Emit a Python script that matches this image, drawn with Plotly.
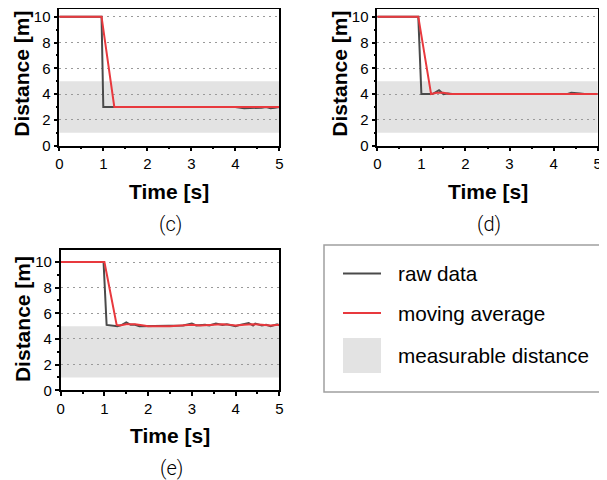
import plotly.graph_objects as go

# page is 607x480; the HTML body has an 8px default margin, so the figure
# is sized/positioned to compensate
OFF = 8
W, H = 607 - OFF, 480 - OFF

# ---------------- data ----------------
band_range = [1, 5]   # measurable distance [m]

# panel (c)
t_c_raw = [0, 0.96, 1.0, 1.2, 1.4, 1.6, 1.7, 1.8, 2.0, 2.2, 2.4, 2.6, 2.8, 3.0, 3.2, 3.4, 3.6, 3.8, 4.0,
           4.2, 4.3, 4.4, 4.5, 4.6, 4.7, 4.8, 4.9, 5.0]
d_c_raw = [10, 10, 3.0, 3.0, 3.0, 3.0, 2.95, 3.0, 3.0, 2.95, 3.0, 3.0, 3.0, 2.95, 3.0, 2.95, 3.0, 3.0, 3.0,
           2.9, 2.9, 2.95, 2.9, 2.95, 3.0, 2.9, 2.95, 3.0]
t_c_avg = [0, 0.96, 1.25, 1.5, 2.0, 2.5, 3.0, 3.5, 4.0, 4.3, 4.6, 4.8, 5.0]
d_c_avg = [10, 10, 3.0, 3.0, 3.0, 3.0, 3.0, 3.0, 3.0, 2.97, 2.95, 2.97, 3.0]

# panel (d)
t_d_raw = [0, 0.93, 1.0, 1.25, 1.3, 1.4, 1.5, 1.6, 1.7, 2.0, 2.5, 3.0, 3.5, 4.0, 4.3, 4.4, 4.5, 4.6, 4.7, 5.0]
d_d_raw = [10, 10, 4.0, 4.0, 4.1, 4.3, 4.0, 4.05, 4.0, 4.0, 4.0, 4.0, 4.0, 4.0, 4.0, 4.1, 4.1, 4.05, 4.0, 4.0]
t_d_avg = [0, 0.93, 1.22, 1.35, 1.5, 1.65, 2.0, 3.0, 4.0, 4.3, 4.45, 4.6, 4.75, 5.0]
d_d_avg = [10, 10, 4.0, 4.1, 4.1, 4.0, 4.0, 4.0, 4.0, 4.0, 4.05, 4.05, 4.0, 4.0]

# panel (e)
t_e_raw = [0, 0.98, 1.05, 1.3, 1.4, 1.5, 1.6, 1.7, 1.8, 2.0, 2.2, 2.4, 2.6, 2.8, 3.0, 3.1, 3.3, 3.4,
           3.55, 3.7, 3.8, 4.0, 4.1, 4.3, 4.4, 4.45, 4.6, 4.7, 4.8, 4.95, 5.0]
d_e_raw = [10, 10, 5.1, 5.0, 5.1, 5.3, 5.1, 5.1, 5.0, 5.0, 5.05, 5.0, 5.0, 5.05, 5.2, 5.05, 5.1, 5.05,
           5.2, 5.1, 5.15, 5.0, 5.1, 5.25, 5.05, 5.2, 5.05, 5.1, 5.0, 5.15, 5.05]
t_e_avg = [0, 1.0, 1.28, 1.35, 1.5, 1.7, 1.9, 2.0, 2.5, 2.8, 3.0, 3.2, 3.4, 3.6, 3.7, 3.9, 4.0, 4.2,
           4.4, 4.6, 4.8, 5.0]
d_e_avg = [10, 10, 5.1, 5.05, 5.15, 5.15, 5.05, 5.0, 5.0, 5.05, 5.1, 5.05, 5.1, 5.1, 5.15, 5.1, 5.05,
           5.1, 5.15, 5.1, 5.05, 5.1]

x_ticks = [0, 1, 2, 3, 4, 5]
y_ticks = [0, 2, 4, 6, 8, 10]
captions = ["(c)", "(d)", "(e)"]
legend_labels = ["raw data", "moving average", "measurable distance"]

RAW_COLOR = "#4a4a4a"
AVG_COLOR = "#e8393e"
BAND_COLOR = "#e3e3e3"

# convert page pixels to paper fractions
def px(x):
    return (x - OFF) / W

def py(y):
    return 1 - (y - OFF) / H

# panel geometry (page pixels): left, right, top, bottom, pixel row of y=10
panels = [
    (59.3, 279.3, 5.0, 145.7, 16.7),
    (377.3, 597.7, 5.0, 145.7, 16.7),
    (60.7, 279.3, 250.4, 390.3, 262.0),
]
series = [
    (t_c_raw, d_c_raw, t_c_avg, d_c_avg),
    (t_d_raw, d_d_raw, t_d_avg, d_d_avg),
    (t_e_raw, d_e_raw, t_e_avg, d_e_avg),
]

fig = go.Figure()
layout = dict(width=W, height=H, margin=dict(l=0, r=0, t=0, b=0, autoexpand=False),
              paper_bgcolor="white", plot_bgcolor="white", showlegend=False)
shapes = []
annotations = []
tickfont = dict(family="Liberation Sans, Arial, sans-serif", size=15, color="black")

for i, ((l, r, t, b, y10), (tr, dr, ta, da)) in enumerate(zip(panels, series)):
    n = "" if i == 0 else str(i + 1)
    xa, ya = "x" + n, "y" + n
    t_eff = max(t, OFF + 0.5)
    ymax = 10 * (b - t_eff) / (b - y10)
    fig.add_trace(go.Scatter(x=tr, y=dr, mode="lines", line=dict(color=RAW_COLOR, width=2),
                             xaxis=xa, yaxis=ya, name="raw data", cliponaxis=False))
    fig.add_trace(go.Scatter(x=ta, y=da, mode="lines", line=dict(color=AVG_COLOR, width=2),
                             xaxis=xa, yaxis=ya, name="moving average", cliponaxis=False))
    layout["xaxis" + n] = dict(domain=[px(l), px(r)], anchor=ya, range=[0, 5], automargin=False,
                               tickvals=x_ticks, ticks="outside", ticklen=4, tickwidth=1.5,
                               tickcolor="black", showline=True, linecolor="black", linewidth=1.5,
                               mirror=True, showgrid=False, zeroline=False, tickfont=tickfont,
                               ticklabeloverflow="allow",
                               minor=dict(dtick=0.5, ticks="outside", ticklen=2, tickcolor="black",
                                          showgrid=False))
    layout["yaxis" + n] = dict(domain=[py(b), min(1.0, py(t_eff))], anchor=xa, range=[0, ymax],
                               automargin=False, ticklabeloverflow="allow",
                               tickvals=y_ticks, ticks="outside", ticklen=4, tickwidth=1.5,
                               tickcolor="black", showline=True, linecolor="black", linewidth=1.5,
                               mirror=True, showgrid=True, gridcolor="#9a9a9a", gridwidth=1.3,
                               griddash="2px,4px", zeroline=False, tickfont=tickfont,
                               minor=dict(dtick=1, ticks="outside", ticklen=2, tickcolor="black",
                                          showgrid=False))
    shapes.append(dict(type="rect", xref=xa + " domain", yref=ya, x0=0, x1=1,
                       y0=band_range[0], y1=band_range[1], fillcolor=BAND_COLOR,
                       line=dict(width=0), layer="below"))
    cx = (l + r) / 2
    # y title
    annotations.append(dict(text="<b>Distance [m]</b>", xref="paper", yref="paper",
                            x=px(l - 37.5), y=py((t + b) / 2 - 1.5), textangle=-90,
                            showarrow=False, xanchor="center", yanchor="middle",
                            font=dict(family="Liberation Sans, Arial", size=21, color="black")))
    # x title
    annotations.append(dict(text="<b>Time [s]</b>", xref="paper", yref="paper",
                            x=px(cx), y=py(b + 45.5), showarrow=False,
                            xanchor="center", yanchor="middle",
                            font=dict(family="Liberation Sans, Arial", size=21, color="black")))
    # caption
    annotations.append(dict(text=captions[i], xref="paper", yref="paper",
                            x=px(cx + 1), y=py(b + 78), showarrow=False,
                            xanchor="center", yanchor="middle",
                            font=dict(family="Roboto, sans-serif", size=20, color="black", weight=300)))

# legend box (drawn manually)
shapes.append(dict(type="rect", xref="paper", yref="paper", x0=px(324), x1=px(600),
                   y0=py(392), y1=py(245), line=dict(color="#a0a0a0", width=1.5),
                   fillcolor="white"))
shapes.append(dict(type="line", xref="paper", yref="paper", x0=px(343), x1=px(381),
                   y0=py(273.5), y1=py(273.5), line=dict(color=RAW_COLOR, width=2)))
shapes.append(dict(type="line", xref="paper", yref="paper", x0=px(343), x1=px(381),
                   y0=py(313), y1=py(313), line=dict(color=AVG_COLOR, width=2)))
shapes.append(dict(type="rect", xref="paper", yref="paper", x0=px(343), x1=px(381),
                   y0=py(373), y1=py(338), line=dict(width=0), fillcolor=BAND_COLOR))
for lbl, yy in zip(legend_labels, [273.5, 313, 355]):
    annotations.append(dict(text=lbl, xref="paper", yref="paper", x=px(396), y=py(yy),
                            showarrow=False, xanchor="left", yanchor="middle",
                            font=dict(family="Liberation Sans, Arial", size=20.7, color="black")))

layout["shapes"] = shapes
layout["annotations"] = annotations
fig.update_layout(**layout)
fig.write_html("out.html")
